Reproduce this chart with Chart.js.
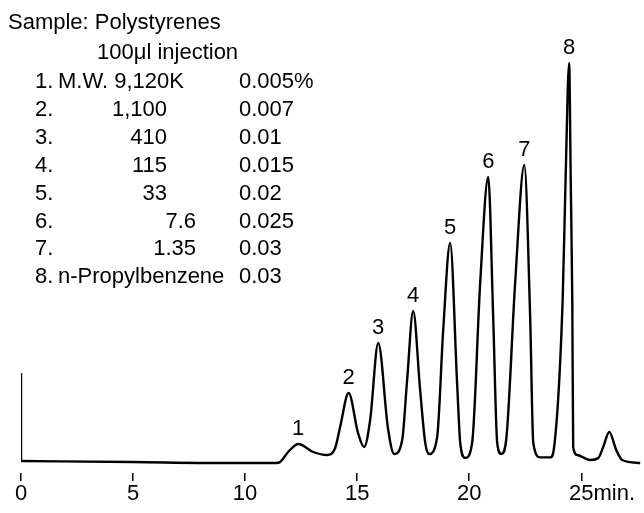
<!DOCTYPE html>
<html>
<head>
<meta charset="utf-8">
<script src="https://cdn.jsdelivr.net/npm/chart.js@4.4.0/dist/chart.umd.min.js"></script>
<style>
  html, body { margin: 0; padding: 0; background: #fff; }
  canvas { display: block; }
</style>
</head>
<body>
<canvas id="chart" width="644" height="513"></canvas>
<script>
// Retention time (min) and detector response
var times = [0, 5, 9, 11.4, 11.56, 11.96, 12.37, 13.04, 13.66, 14.02, 14.24, 14.62, 15.04, 15.31,
  15.58, 15.94, 16.38, 16.65, 17.01, 17.23, 17.5, 17.81, 18.04, 18.21, 18.57, 18.84, 19.15,
  19.46, 19.6, 19.82, 20.13, 20.49, 20.85, 21.07, 21.25, 21.43, 21.65, 22.05, 22.46, 22.72,
  22.86, 23.17, 23.62, 23.79, 24.17, 24.30, 24.46, 24.53, 24.60, 24.64, 24.82, 25.4, 25.76,
  25.98, 26.25, 26.56, 26.83, 27.63];
var signal = [0, -0.25, -0.5, -0.5, -0.25, 2.5, 4.25, 2.25, 1.5, 3.25, 8.5, 17, 7, 3.5,
  10.25, 29.5, 8, 1.75, 5.25, 20.25, 37.5, 17.75, 4.5, 1.75, 6, 32.75, 54.5,
  19.5, 4.5, 0.75, 4.5, 44.5, 71, 36, 4.5, 1.75, 5.25, 44.5, 74, 36,
  4.5, 0.9, 0.9, 3.5, 40.25, 70.25, 99.5, 70.25, 40.25, 3.5, 1.5, 0.25, 0.75,
  3.5, 7.25, 2.75, 0.25, -0.5];

// injection mark at t = 0
var injectTimes = [0, 0];
var injectSignal = [22, 0];

// labelled peaks
var peakNames = ['1', '2', '3', '4', '5', '6', '7', '8'];
var peakTimes = [12.37, 14.62, 15.94, 17.5, 19.15, 20.85, 22.46, 24.46];

// sample table
var sampleTitle = 'Sample: Polystyrenes';
var injectionNote = '100\u03bcl injection';
var molWeights = ['M.W. 9,120K', '1,100', '410', '115', '33', '7.6', '1.35', 'n-Propylbenzene'];
var concentrations = ['0.005%', '0.007', '0.01', '0.015', '0.02', '0.025', '0.03', '0.03'];

var xTicks = [0, 5, 10, 15, 20, 25];
var timeUnit = 'min.';

var FONT = '"Liberation Sans", Arial, Helvetica, sans-serif';
var INK = '#000';

function toPoints(xs, ys) {
  return xs.map(function(x, i) { return { x: x, y: ys[i] }; });
}

var annotations = {
  id: 'annotations',
  afterDraw: function(chart) {
    var ctx = chart.ctx;
    var xs = chart.scales.x, ys = chart.scales.y;
    ctx.save();
    ctx.fillStyle = INK;
    ctx.font = '22px ' + FONT;
    ctx.textBaseline = 'middle';

    // peak numbers above each apex
    ctx.textAlign = 'center';
    peakTimes.forEach(function(t, i) {
      var k = times.indexOf(t);
      var px = xs.getPixelForValue(t);
      var py = ys.getPixelForValue(signal[k]);
      ctx.fillText(peakNames[i], px, py - 15);
    });

    // unit after the last tick label
    var last = xTicks[xTicks.length - 1];
    var lx = xs.getPixelForValue(last) + ctx.measureText(String(last)).width / 2;
    var ly = xs.top + 8 + 13.2;
    ctx.textAlign = 'left';
    ctx.fillText(timeUnit, lx, ly);

    // sample table
    ctx.fillText(sampleTitle, 8, 23);
    ctx.fillText(injectionNote, 97, 53);
    molWeights.forEach(function(mw, i) {
      var y = 82 + i * 27.9;
      ctx.textAlign = 'left';
      ctx.fillText(peakNames[i] + '.', 35, y);
      if (/^[A-Za-z]/.test(mw)) {
        ctx.fillText(mw, 58, y);
      } else if (mw.indexOf('.') >= 0) {
        ctx.textAlign = 'right';
        ctx.fillText(mw, 196, y);
      } else {
        ctx.textAlign = 'right';
        ctx.fillText(mw, 167, y);
      }
      ctx.textAlign = 'left';
      ctx.fillText(concentrations[i], 239, y);
    });
    ctx.restore();
  }
};

new Chart(document.getElementById('chart'), {
  type: 'line',
  data: {
    datasets: [
      {
        label: 'signal',
        data: toPoints(times, signal),
        borderColor: INK,
        borderWidth: 2.4,
        cubicInterpolationMode: 'monotone',
        pointRadius: 0,
        fill: false
      },
      {
        label: 'injection',
        data: toPoints(injectTimes, injectSignal),
        borderColor: INK,
        borderWidth: 2.4,
        pointRadius: 0,
        fill: false
      }
    ]
  },
  options: {
    responsive: false,
    animation: false,
    devicePixelRatio: 1,
    layout: { padding: { top: 61, left: 21, right: 0, bottom: 0 } },
    plugins: { legend: { display: false }, tooltip: { enabled: false } },
    scales: {
      x: {
        type: 'linear',
        min: 0,
        max: 27.8,
        afterFit: function(scale) { scale.height = 40; },
        afterBuildTicks: function(scale) {
          scale.ticks = xTicks.map(function(v) { return { value: v }; });
        },
        ticks: {
          autoSkip: false,
          maxRotation: 0,
          padding: 0,
          color: INK,
          font: { family: FONT, size: 22 }
        },
        grid: {
          display: true,
          drawOnChartArea: false,
          drawTicks: true,
          tickLength: 8,
          color: INK,
          lineWidth: 1.5
        },
        border: { display: false }
      },
      y: { display: false, min: -3, max: 100 }
    }
  },
  plugins: [annotations]
});
</script>
</body>
</html>
